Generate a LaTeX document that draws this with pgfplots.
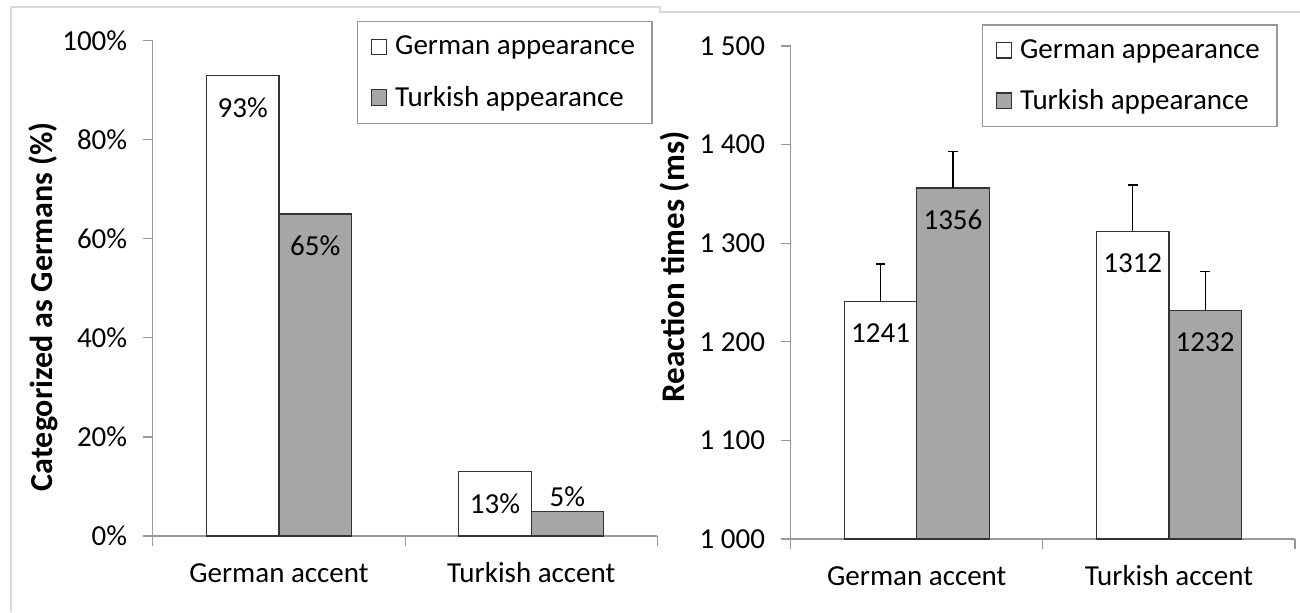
\documentclass[border=0pt]{standalone}
\usepackage{fontspec}
\setmainfont{Carlito}
\usepackage{pgfplots}
\pgfplotsset{compat=1.18}
\usepackage{pgfplotstable}

\definecolor{barfill}{HTML}{A6A6A6}
\definecolor{axisgray}{HTML}{989898}
\definecolor{framegray}{HTML}{D9D9D9}
\definecolor{edge}{HTML}{333333}

\pgfplotstableread{
x y dy
0 93 -16
1 13 -16
}\leftGerman
\pgfplotstableread{
x y dy
0 65 -16
1 5 7.4
}\leftTurkish
\pgfplotstableread{
x y e dy
0 1241 38 -16
1 1312 47 -16
}\rightGerman
\pgfplotstableread{
x y e dy
0 1356 37 -16
1 1232 39 -16
}\rightTurkish

\newcommand{\fs}{\fontsize{14.5}{17}\selectfont}

\pgfplotsset{
  panel/.style={
    scale only axis,
    ybar,
    bar width=0.287,
    xmin=-0.5, xmax=1.5,
    enlargelimits=false,
    clip=false,
    axis x line*=bottom, axis y line*=left,
    axis line style={axisgray, line width=0.6pt},
    tick style={axisgray, line width=0.6pt},
    tick align=outside,
    major tick length=4.8pt,
    xtick={-0.5,0.5,1.5}, xticklabels={},
    extra x ticks={0,1},
    extra x tick labels={German accent, Turkish accent},
    extra x tick style={major tick length=0pt, tick label style={anchor=base, yshift=-23pt}},
    ytick pos=left,
    yticklabel style={xshift=-4.5pt},
    /pgf/number format/assume math mode=true,
    tick label style={font=\fs, text=black},
    visualization depends on={\thisrow{dy} \as \dy},
    nodes near coords,
    every node near coord/.append style={anchor=center, yshift=\dy*1pt, font=\fs, text=black},
    legend cell align=left,
    legend image code/.code={\draw[#1] (0pt,-3.85pt) rectangle (7.7pt,3.85pt);},
    legend style={draw=axisgray, line width=0.6pt, fill=white, font=\fs,
      inner xsep=6.5pt, inner ysep=5.25pt, row sep=10pt,
      /tikz/every odd column/.style={column sep=2pt}},
    every axis y label/.style={rotate=90, anchor=center, font=\fontsize{16}{19}\selectfont\bfseries},
  },
  gbar/.style={fill=white, draw=edge, line width=0.6pt},
  tbar/.style={fill=barfill, draw=edge, line width=0.6pt},
}

\begin{document}
\begin{tikzpicture}
\path[use as bounding box] (0,0) rectangle (650pt,306pt);
\draw[framegray, line width=0.6pt] (5.5pt,0) -- (5.5pt,302.5pt) -- (330pt,302.5pt) -- (330pt,300pt) -- (650pt,300pt);

\begin{axis}[panel,
  at={(76.4pt,38pt)}, anchor=south west,
  width=252.3pt, height=247.65pt,
  ymin=0, ymax=100,
  ytick={0,20,40,60,80,100},
  yticklabels={0\%,20\%,40\%,60\%,80\%,100\%},
  nodes near coords={\pgfmathprintnumber{\pgfplotspointmeta}\%},
  ylabel={Categorized as Germans (\%)},
  every axis y label/.append style={at={(rel axis cs:-0.2176,0.463)}},
  legend style={at={(0.4047,1.0398)}, anchor=north west},
]
\addplot[gbar, bar shift=-0.1435] table[x=x,y=y] {\leftGerman};
\addlegendentry{German appearance}
\addplot[tbar, bar shift=0.1435] table[x=x,y=y] {\leftTurkish};
\addlegendentry{Turkish appearance}
\end{axis}

\begin{axis}[panel,
  at={(395.35pt,36.5pt)}, anchor=south west,
  width=252.15pt, height=246.5pt,
  ymin=1000, ymax=1500,
  ytick={1000,1100,1200,1300,1400,1500},
  yticklabels={1 000,1 100,1 200,1 300,1 400,1 500},
  nodes near coords={\pgfmathprintnumber[1000 sep={}]{\pgfplotspointmeta}},
  ylabel={Reaction times (ms)},
  every axis y label/.append style={at={(rel axis cs:-0.229,0.552)}, font=\fontsize{16.5}{19}\selectfont\bfseries},
  legend style={at={(0.3793,1.044)}, anchor=north west},
  error bars/y dir=plus, error bars/y explicit,
  error bars/error mark=-,
  error bars/error bar style={black, line width=0.6pt},
  error bars/error mark options={black, line width=0.6pt, mark size=2.4pt, rotate=90},
]
\addplot[gbar, bar shift=-0.1435] table[x=x,y=y,y error plus=e] {\rightGerman};
\addlegendentry{German appearance}
\addplot[tbar, bar shift=0.1435] table[x=x,y=y,y error plus=e] {\rightTurkish};
\addlegendentry{Turkish appearance}
\end{axis}
\end{tikzpicture}
\end{document}
